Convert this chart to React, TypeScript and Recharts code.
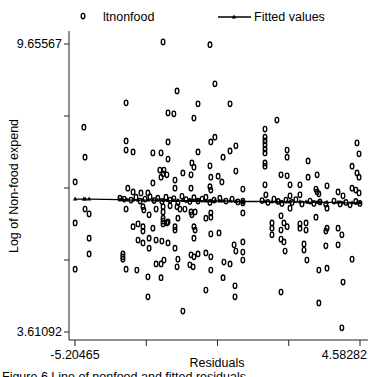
import { ScatterChart, Scatter, XAxis, YAxis } from "recharts";

// axis ticks (Stata labels only the two ends)
const xTicks = [-5.20465, -2.75778, -0.31091, 2.13596, 4.58282];
const yTicks = [3.61092, 5.12211, 6.6333, 8.14448, 9.65567];

// ltnonfood vs residuals, grouped by region
const leftPoints: [number, number][] = [
  [-5.2, 6.76], [-5.2, 5.9], [-5.2, 4.93], [-4.9, 7.91], [-4.86, 7.28], [-4.86, 6.19],
  [-4.72, 6.09], [-4.72, 5.58], [-4.72, 5.25], [-3.45, 8.42], [-3.45, 7.62], [-3.45, 7.43],
  [-3.21, 7.39], [-3.45, 6.19], [-3.56, 5.25], [-3.56, 5.19], [-3.56, 5.14], [-3.45, 4.93],
  [-3.39, 6.63], [-3.21, 6.55], [-2.94, 6.53], [-2.7, 6.53],
];

const upperMiddle: [number, number][] = [
  [-2.18, 9.7], [-0.57, 9.64], [-0.4, 8.82], [-1.7, 8.67], [-0.98, 8.4], [0.12, 8.4],
  [-2.01, 8.21], [-1.81, 8.19], [-1.12, 8.1], [-2.01, 7.6], [-0.54, 7.6], [-0.4, 7.7],
  [-2.53, 7.37], [-2.25, 7.37], [-0.98, 7.39], [0.12, 7.41], [0.32, 7.52], [-2.01, 7.24],
  [-0.12, 7.28], [-1.19, 7.16], [-1.12, 7.07], [-0.57, 7.1], [-2.29, 7.01], [-2.15, 7.01],
  [-2.18, 6.93], [-2.05, 6.91], [-2.25, 6.86], [-1.5, 6.95], [-1.22, 6.91], [-0.54, 6.86],
  [-0.29, 6.88], [-0.16, 6.76], [0.32, 6.99], [-2.53, 6.74], [-1.77, 6.8], [-1.77, 6.63],
  [-1.22, 6.63], [-0.57, 6.66], [-0.54, 6.59], [0.56, 6.61],
];

const nearLine: [number, number][] = [
  [-3.66, 6.42], [-3.52, 6.4], [-3.28, 6.38], [-3.11, 6.44], [-2.97, 6.36], [-2.8, 6.4],
  [-2.63, 6.45], [-2.49, 6.37], [-2.36, 6.42], [-2.22, 6.35], [-2.08, 6.44], [-1.94, 6.38],
  [-1.81, 6.41], [-1.67, 6.33], [-1.53, 6.46], [-1.39, 6.39], [-1.26, 6.35], [-1.12, 6.43],
  [-0.98, 6.36], [-0.84, 6.4], [-0.71, 6.44], [-0.57, 6.33], [-0.43, 6.38], [-0.23, 6.42],
  [-0.02, 6.36], [0.19, 6.4], [0.39, 6.34], [0.56, 6.36], [0.56, 6.32], [1.22, 6.37],
  [1.42, 6.33], [1.63, 6.4], [1.77, 6.35], [1.9, 6.31], [2.04, 6.38], [2.25, 6.33],
  [2.38, 6.39], [2.59, 6.3], [2.87, 6.36], [3.0, 6.31], [3.21, 6.34], [3.41, 6.29],
  [3.69, 6.36], [3.9, 6.3], [4.1, 6.33], [4.24, 6.28], [4.44, 6.35], [4.58, 6.31],
];

const lowerMiddle: [number, number][] = [
  [-2.87, 6.24], [-2.84, 6.17], [-2.42, 6.19], [-2.18, 6.24], [-2.18, 6.13], [-1.94, 6.26],
  [-1.7, 6.24], [-1.6, 6.19], [-1.43, 6.19], [-2.66, 6.07], [-2.18, 6.0], [-2.18, 5.94],
  [-2.18, 5.88], [-2.01, 5.92], [-1.67, 6.0], [-1.22, 6.13], [-1.08, 6.13], [-1.19, 6.07],
  [-0.54, 6.11], [-0.54, 6.02], [-0.71, 6.0], [0.56, 6.11], [-3.21, 5.82], [-3.04, 5.88],
  [-2.87, 5.82], [-2.87, 5.73], [-2.53, 5.79], [-2.05, 5.9], [-1.77, 5.82], [-1.77, 5.75],
  [-1.12, 5.82], [-1.08, 5.75], [-1.12, 5.58], [-0.54, 5.67], [-0.26, 5.69], [-3.04, 5.54],
  [-2.87, 5.48], [-2.66, 5.58], [-2.66, 5.37], [-2.42, 5.54], [-2.22, 5.52], [-2.01, 5.48],
  [-1.77, 5.37], [-0.71, 5.27], [-0.98, 5.25], [-1.22, 5.23], [-1.12, 5.19], [-0.54, 5.19],
  [-0.09, 5.08], [0.12, 5.04], [0.26, 5.44], [0.32, 5.31], [0.56, 5.5], [0.56, 5.29],
  [0.56, 5.12], [-2.42, 5.04], [-2.25, 5.04], [-2.15, 5.12], [-1.67, 5.14], [-1.7, 4.98],
  [-1.26, 5.02], [-1.15, 4.98], [-0.54, 4.91], [-3.08, 4.91], [-2.7, 4.77], [-2.25, 4.75],
  [-0.12, 4.75], [0.29, 4.58], [-0.71, 4.49], [0.29, 4.35], [-2.7, 4.35], [-1.5, 4.05],
];

const rightPoints: [number, number][] = [
  [1.73, 8.06], [1.32, 7.87], [1.32, 7.7], [1.32, 7.62], [1.32, 7.54], [1.32, 7.45],
  [1.32, 7.37], [1.32, 7.16], [1.32, 7.09], [2.08, 7.43], [2.08, 7.28], [2.8, 7.2],
  [1.87, 6.91], [2.08, 6.89], [2.8, 6.86], [3.11, 6.91], [4.48, 7.58], [4.55, 7.35],
  [4.31, 7.09], [4.48, 6.95], [4.55, 6.86], [1.32, 6.7], [2.18, 6.7], [2.52, 6.7],
  [3.07, 6.61], [3.11, 6.55], [3.45, 6.68], [3.17, 6.51], [3.83, 6.55], [4.0, 6.47],
  [4.31, 6.63], [4.44, 6.59], [4.55, 6.53], [1.35, 6.49], [2.18, 6.47], [2.52, 6.49],
  [1.87, 6.05], [1.56, 5.9], [1.56, 5.79], [1.56, 5.65], [1.97, 5.9], [2.08, 5.82],
  [1.87, 5.75], [2.18, 6.21], [2.52, 5.88], [2.52, 5.79], [2.73, 5.9], [2.73, 5.75],
  [3.07, 6.02], [3.45, 5.79], [3.41, 5.73], [3.83, 5.79], [3.96, 5.65], [3.45, 6.21],
  [1.87, 5.56], [1.97, 5.5], [2.01, 5.31], [2.66, 5.46], [2.66, 5.33], [2.76, 5.12],
  [3.41, 5.42], [3.83, 5.44], [4.31, 5.14], [3.17, 4.91], [3.45, 4.95], [4.0, 4.66],
  [1.87, 4.45], [3.17, 4.22], [3.96, 3.7],
];

// fitted values, one triangle per residual value
const fittedX = [
  -5.2, -4.9, -4.86, -4.72, -3.66, -3.56, -3.45, -3.39, -3.21, -3.04, -2.87, -2.7, -2.53,
  -2.36, -2.18, -2.01, -1.81, -1.67, -1.5, -1.26, -1.12, -0.98, -0.71, -0.54, -0.4, -0.23,
  -0.12, 0.12, 0.32, 0.56, 1.32, 1.56, 1.73, 1.87, 2.08, 2.18, 2.52, 2.73, 2.8, 3.11, 3.21,
  3.45, 3.83, 4.0, 4.31, 4.48, 4.58,
];
const fittedY = [
  6.4, 6.4, 6.4, 6.4, 6.39, 6.39, 6.39, 6.38, 6.38, 6.38, 6.38, 6.38, 6.38,
  6.38, 6.37, 6.37, 6.37, 6.37, 6.37, 6.37, 6.37, 6.37, 6.36, 6.36, 6.36, 6.36,
  6.36, 6.36, 6.35, 6.35, 6.35, 6.34, 6.34, 6.34, 6.34, 6.34, 6.34, 6.34, 6.33, 6.33, 6.33,
  6.33, 6.33, 6.32, 6.32, 6.32, 6.32,
];

const scatterData = [...leftPoints, ...upperMiddle, ...nearLine, ...lowerMiddle, ...rightPoints].map(
  ([x, y]) => ({ x, y })
);
const fittedData = fittedX.map((x, i) => ({ x, y: fittedY[i] }));

const FONT = '"Liberation Sans", Arial, Helvetica, sans-serif';
const FS = 12.5;

function Ring(props: any) {
  const { cx, cy } = props;
  if (cx == null || cy == null) return <g />;
  return (
    <ellipse cx={cx} cy={cy} rx={1.8} ry={2.7} fill="none" stroke="#000" strokeWidth={1.35} />
  );
}

function Tri(props: any) {
  const { cx, cy } = props;
  if (cx == null || cy == null) return <g />;
  return (
    <path
      d={`M${cx},${cy - 2.6} L${cx + 2.2},${cy + 1.4} L${cx - 2.2},${cy + 1.4} Z`}
      fill="#000"
    />
  );
}

function XTick({ x, y, payload }: any) {
  const v = payload.value;
  if (v === xTicks[0]) {
    return (
      <text x={x} y={y} dy={10.5} textAnchor="middle" fontFamily={FONT} fontSize={FS} fill="#000">
        {v}
      </text>
    );
  }
  if (v === xTicks[xTicks.length - 1]) {
    // the last label is pushed in so it stays on the page
    return (
      <text x={367} y={y} dy={10.5} textAnchor="end" fontFamily={FONT} fontSize={FS} fill="#000">
        {v}
      </text>
    );
  }
  return <g />;
}

function YTick({ x, y, payload }: any) {
  const v = payload.value;
  if (v !== yTicks[0] && v !== yTicks[yTicks.length - 1]) return <g />;
  return (
    <text x={x} y={y} dy={4.4} textAnchor="end" fontFamily={FONT} fontSize={FS} fill="#000">
      {v}
    </text>
  );
}

export default function App() {
  return (
    <div style={{ position: "absolute", left: 0, top: 0, width: 368, height: 377, background: "#fff", overflow: "hidden" }}>
      <ScatterChart width={368} height={377} margin={{ top: 31, right: 0, bottom: 7, left: 0 }}>
        <XAxis
          type="number"
          dataKey="x"
          domain={[-5.4107, 4.8575]}
          allowDataOverflow
          ticks={xTicks}
          interval={0}
          height={30}
          tickSize={6}
          tick={<XTick />}
          stroke="#222"
        />
        <YAxis
          type="number"
          dataKey="y"
          domain={[3.443, 9.9285]}
          allowDataOverflow
          ticks={yTicks}
          interval={0}
          width={69}
          tickSize={5}
          tick={<YTick />}
          stroke="#222"
        />
        <Scatter data={scatterData} shape={<Ring />} isAnimationActive={false} />
        <Scatter
          data={fittedData}
          shape={<Tri />}
          line={{ stroke: "#000", strokeWidth: 1.3 }}
          lineType="joint"
          isAnimationActive={false}
        />
      </ScatterChart>
      <svg
        width={368}
        height={377}
        style={{ position: "absolute", left: 0, top: 0, pointerEvents: "none" }}
        fontFamily={FONT}
        fontSize={FS}
      >
        {/* legend */}
        <ellipse cx={83} cy={16} rx={1.8} ry={2.7} fill="none" stroke="#000" strokeWidth={1.35} />
        <text x={103} y={20.5}>ltnonfood</text>
        <line x1={218} y1={17} x2={251} y2={17} stroke="#000" strokeWidth={1.3} />
        <path d="M234,14.4 L236.2,18.4 L231.8,18.4 Z" fill="#000" />
        <text x={254} y={20.5}>Fitted values</text>
        {/* axis titles */}
        <text transform="rotate(-90)" x={-186} y={18} textAnchor="middle">
          Log of Non-food expend
        </text>
        <text x={217} y={367} textAnchor="middle">Residuals</text>
        <text x={2} y={381}>Figure 6 Line of nonfood and fitted residuals</text>
      </svg>
    </div>
  );
}
